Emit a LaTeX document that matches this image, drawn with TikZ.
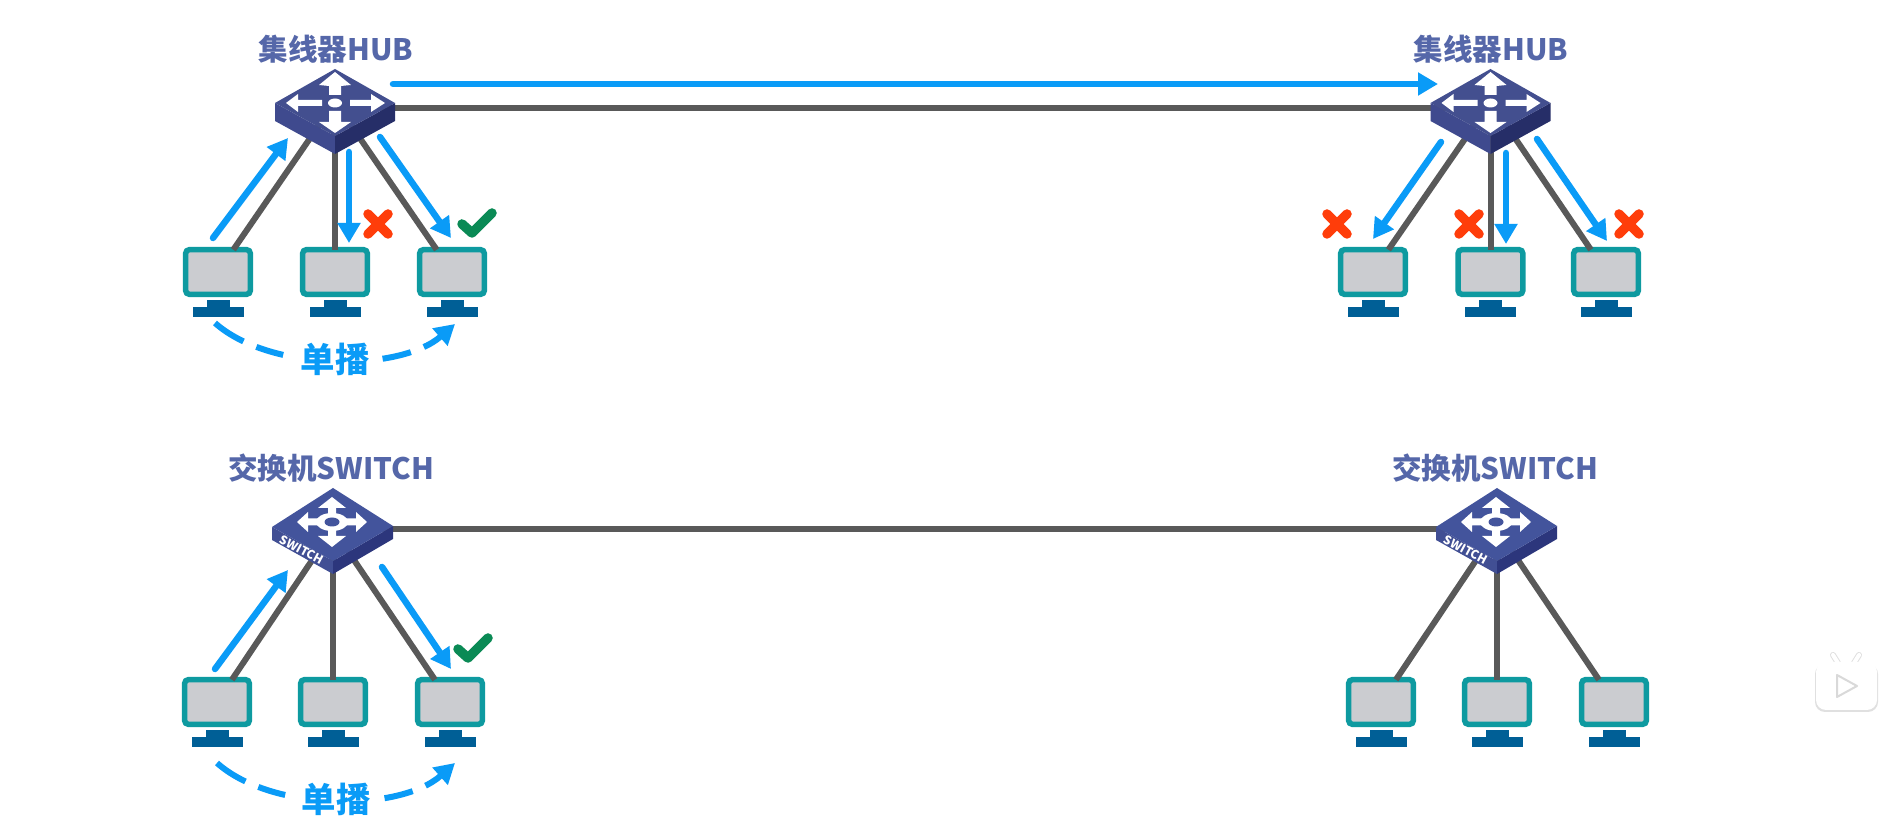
\documentclass[tikz,border=0pt]{standalone}
\usepackage{fontspec}
\setmainfont{Noto Sans CJK SC}
\usetikzlibrary{arrows.meta}
\definecolor{wiregray}{HTML}{595959}
\definecolor{flowblue}{HTML}{0A9BF7}
\definecolor{labelblue}{HTML}{5567A9}
\definecolor{pcteal}{HTML}{0E9AA0}
\definecolor{pcgray}{HTML}{CBCCD0}
\definecolor{standblue}{HTML}{005F96}
\definecolor{crossred}{HTML}{FF3D0A}
\definecolor{checkgreen}{HTML}{0A8A55}
\definecolor{hubtop}{HTML}{434F8F}
\definecolor{hubleft}{HTML}{3F4A8E}
\definecolor{hubright}{HTML}{262E68}
\definecolor{swtop}{HTML}{43549C}
\definecolor{swleft}{HTML}{414F94}
\definecolor{swright}{HTML}{2C367C}
\tikzset{
 hubnode/.style={minimum width=1.2cm,minimum height=.66cm,inner sep=0pt},
 pcnode/.style={draw=pcteal,fill=pcgray,line width=.055cm,rounded corners=.035cm,
  minimum width=.645cm,minimum height=.445cm,inner sep=0pt,outer sep=0pt},
 wire/.style={draw=wiregray,line width=.06cm},
 trunk/.style={draw=wiregray,line width=.065cm},
 flowarrow/.style={draw=flowblue,line width=.065cm,line cap=round,
  -{Triangle[length=.2cm,width=.22cm]}},
 castarrow/.style={draw=flowblue,line width=.06cm,
  dash pattern=on .34cm off .14cm on .28cm off 1cm on .29cm off .14cm on .8cm,
  -{Triangle[length=.2cm,width=.22cm]}},
 devlabel/.style={text=labelblue,font=\fontsize{8.4}{10}\selectfont\bfseries,inner sep=0pt},
 castlabel/.style={text=flowblue,font=\fontsize{9.8}{11}\selectfont\bfseries,inner sep=0pt},
 pics/pcstand/.style={code={
  \fill[standblue] (-11.5,28) rectangle (11.5,36);
  \fill[standblue] (-25.5,35) rectangle (25.5,45);
 }},
 pics/crossmark/.style={code={
  \draw[crossred,line width=.095cm,line cap=round] (-10,-10) -- (10,10);
  \draw[crossred,line width=.095cm,line cap=round] (-10,10) -- (10,-10);
 }},
 pics/checkmark/.style={code={
  \draw[checkgreen,line width=.095cm,line cap=round,line join=round] (-10,0) -- (0,9) -- (20,-11);
 }},
 pics/hubicon/.style={code={
  \fill[hubleft] (-60,1) -- (0,34) -- (0,52) -- (-60,19) -- cycle;
  \fill[hubright] (60,1) -- (0,34) -- (0,52) -- (60,19) -- cycle;
  \fill[hubtop] (0,-33) -- (60,1) -- (0,34) -- (-60,1) -- cycle;
  \fill[white] (0,-30) -- (16,-17) -- (6,-16) -- (6,-7) -- (-6,-7) -- (-6,-16) -- (-16,-17) -- cycle;
  \fill[white] (0,31) -- (16,20) -- (6,20) -- (6,9) -- (-6,9) -- (-6,20) -- (-16,20) -- cycle;
  \fill[white] (50,1) -- (36,-8) -- (36,-2) -- (15,-2) -- (15,4) -- (36,4) -- (36,10) -- cycle;
  \fill[white] (-49,1) -- (-37,-8) -- (-37,-2) -- (-13,-2) -- (-13,4) -- (-37,4) -- (-37,10) -- cycle;
  \fill[white] (0,1) ellipse (7 and 4.5);
 }},
 pics/switchicon/.style={code={
  \fill[swleft] (-61,-2) -- (0,32) -- (0,45) -- (-61,11) -- cycle;
  \fill[swright] (60,-3) -- (0,32) -- (0,45) -- (60,10) -- cycle;
  \fill[swtop] (0,-41) -- (60,-3) -- (0,32) -- (-61,-2) -- cycle;
  \node[text=white,rotate=-28,font=\fontsize{3.4}{4}\selectfont\bfseries,inner sep=0pt] (-label) at (-31,21) {SWITCH};
  \begin{scope}[shift={(-1,-7)}]
   \fill[white] (0,-25) -- (14,-14) -- (4,-14) -- (4,14) -- (14,14) -- (0,25) -- (-14,14) -- (-4,14) -- (-4,-14) -- (-14,-14) -- cycle;
   \fill[white] (35,0) -- (24,-10) -- (24,-3.5) -- (-24,-3.5) -- (-24,-10) -- (-35,0) -- (-24,10) -- (-24,3.5) -- (24,3.5) -- (24,10) -- cycle;
   \fill[white] (0,0) ellipse (16 and 9);
   \fill[swtop] (0,0) ellipse (7.5 and 4.5);
  \end{scope}
 }},
}
\begin{document}
\begin{tikzpicture}[x=.01cm,y=-.01cm]
\fill[white] (0,0) rectangle (1902,828);
\useasboundingbox (0,0) rectangle (1902,828);

% devices
\node[hubnode] (hubA) at (335,102) {};
\node[hubnode] (hubB) at (1490.5,102) {};
\node[hubnode] (swA) at (333,529) {};
\node[hubnode] (swB) at (1497,529) {};
\foreach \name/\x/\y in {pcA1/218/272,pcA2/335/272,pcA3/452/272,
 pcB1/1373/272,pcB2/1490.5/272,pcB3/1606/272,
 pcC1/217/702,pcC2/333/702,pcC3/450/702,
 pcD1/1381/702,pcD2/1497/702,pcD3/1614/702}
 \node[pcnode] (\name) at (\x,\y) {};

% wires
\draw[trunk] ([yshift=-.06cm]hubA.center) -- ([yshift=-.06cm]hubB.center);
\draw[trunk] (swA.center) -- (swB.center);
\foreach \a/\b/\c/\d in {hubA/pcA1/pcA2/pcA3,hubB/pcB1/pcB2/pcB3,swA/pcC1/pcC2/pcC3,swB/pcD1/pcD2/pcD3}{
 \draw[wire] (\a.center) -- (\b);
 \draw[wire] (\a.center) -- (\c);
 \draw[wire] (\a.center) -- (\d);
}

% icons
\pic at (hubA) {hubicon};
\pic at (hubB) {hubicon};
\pic (swAicon) at (swA) {switchicon};
\pic (swBicon) at (swB) {switchicon};
\foreach \name in {pcA1,pcA2,pcA3,pcB1,pcB2,pcB3,pcC1,pcC2,pcC3,pcD1,pcD2,pcD3}
 \pic at (\name) {pcstand};

% texts
\node[devlabel] (hubAlabel) at (336,49.5) {集线器HUB};
\node[devlabel] (hubBlabel) at (1491,49.5) {集线器HUB};
\node[devlabel] (swAlabel) at (331,468) {交换机SWITCH};
\node[devlabel] (swBlabel) at (1495,468) {交换机SWITCH};
\node[castlabel] (castA) at (335,359) {单播};
\node[castlabel] (castB) at (336,799) {单播};

% blue arrows
\foreach \name/\sx/\sy/\tx/\ty in {upA/213/238/288/138,downA/349/152/349/243,rightA/380/137/451/238,
 long/393/84/1438/84,leftB/1441/142/1373/239,downB/1506/153/1506/244,rightB/1537/139/1607/241,
 upC/215/669/288/570,rightC/382/567/451/669}{
 \coordinate (\name s) at (\sx,\sy);
 \coordinate (\name t) at (\tx,\ty);
 \draw[flowarrow] (\name s) -- (\name t);
}
\coordinate (castAs) at (215,323);
\coordinate (castAt) at (455,324);
\coordinate (castBs) at (217,763);
\coordinate (castBt) at (455,763);
\draw[castarrow] (castAs) .. controls (270,372) and (400,372) .. (castAt);
\draw[castarrow] (castBs) .. controls (272,812) and (400,812) .. (castBt);

% marks
\foreach \x in {378,1337,1469,1629}
 \pic at (\x,224) {crossmark};
\pic at (472,224) {checkmark};
\pic at (468,649) {checkmark};

% badge
\draw[black!12,line width=.06cm,line cap=round] (1833,655) -- (1838,663);
\draw[black!12,line width=.06cm,line cap=round] (1859,655) -- (1854,663);
\fill[black!12,rounded corners=.1cm] (1815,664) rectangle (1878,712);
\draw[white,line width=.04cm,line cap=round] (1833,655) -- (1838,663);
\draw[white,line width=.04cm,line cap=round] (1859,655) -- (1854,663);
\fill[white,rounded corners=.1cm] (1816,662) rectangle (1877,710);
\draw[black!15,fill=white,line width=.02cm,line join=round] (1837,675) -- (1857,686) -- (1837,697) -- cycle;
\end{tikzpicture}
\end{document}
